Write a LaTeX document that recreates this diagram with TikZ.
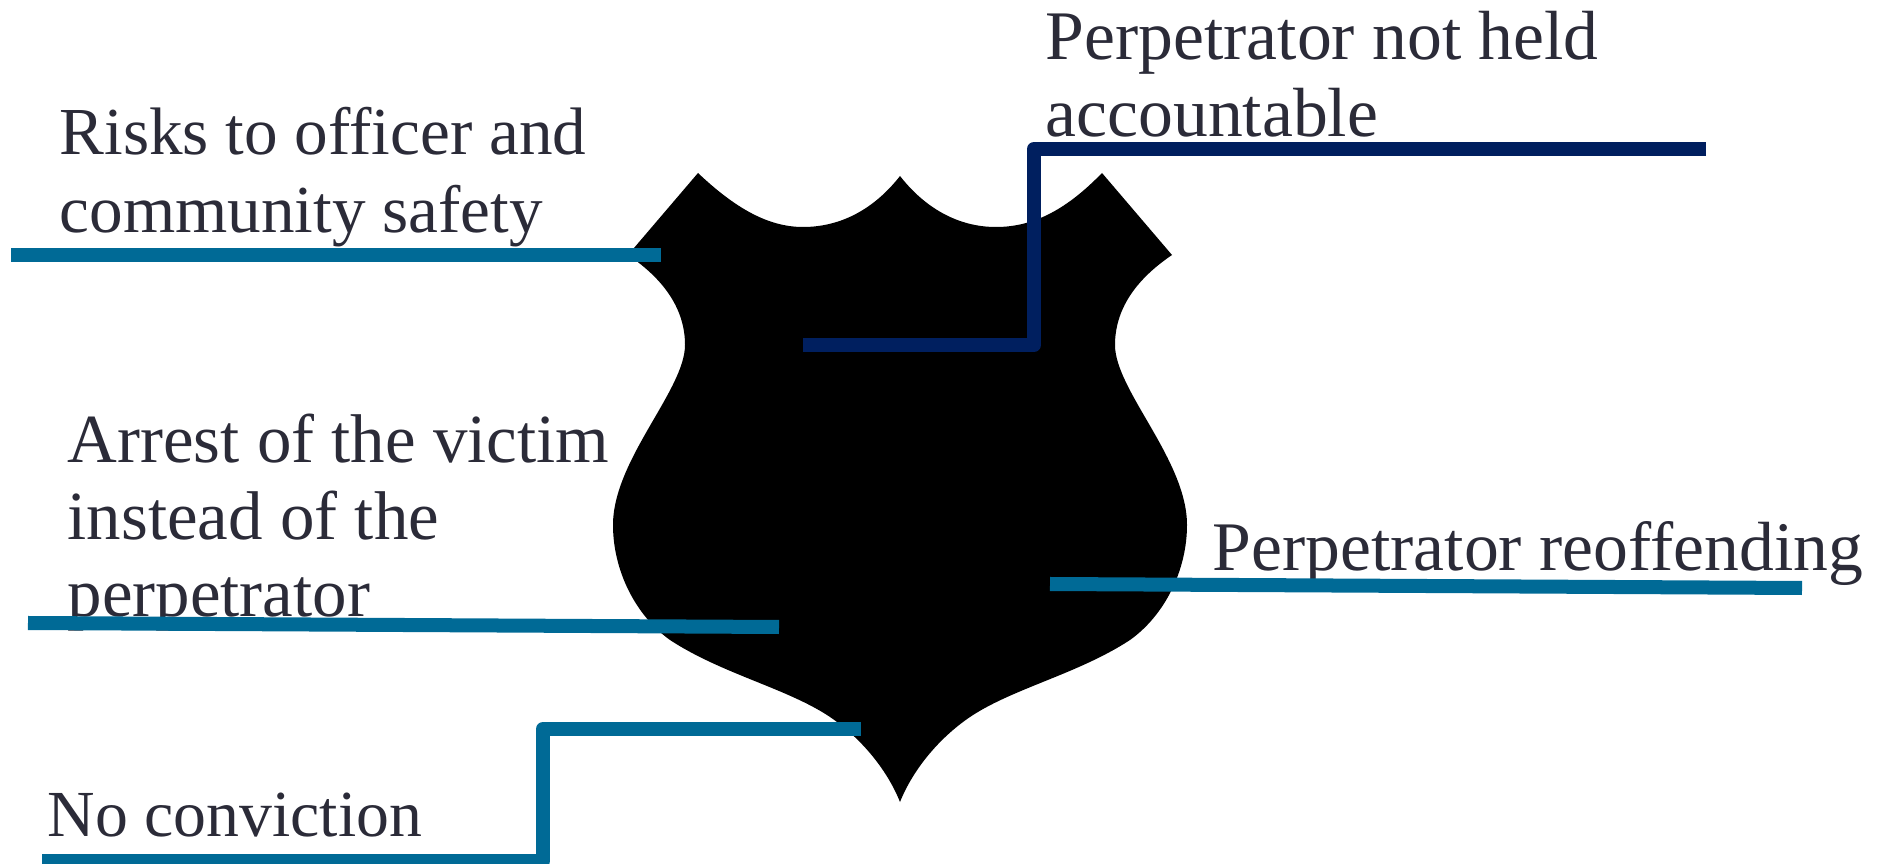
\documentclass[tikz,border=0pt]{standalone}
\usepackage{fontspec}
\usepackage{xcolor}
\setmainfont{Liberation Serif}
\definecolor{labeltext}{HTML}{2B2B38}
\definecolor{leaderteal}{HTML}{006A96}
\definecolor{leadernavy}{HTML}{001F5F}
\tikzset{
    label/.style={anchor=north west, inner sep=0pt, align=left, text=labeltext, font=\fontsize{#1}{21.9}\selectfont},
    label/.default=19.6,
    leader/.style={line width=0.14cm, line join=round, color=leaderteal}
}

\begin{document}
\begin{tikzpicture}[x=0.01cm, y=-0.01cm]
    \useasboundingbox (0,0) rectangle (1887,864);
    \fill[black] (698,173)
        .. controls (735,208) and (768,227) .. (803,227)
        .. controls (842,227) and (875,208) .. (900,176)
        .. controls (925,208) and (958,227) .. (996,227)
        .. controls (1035,227) and (1068,208) .. (1102,173)
        -- (1172,255)
        .. controls (1135,280) and (1115,310) .. (1115,345)
        .. controls (1115,390) and (1187,460) .. (1187,525)
        .. controls (1187,570) and (1165,615) .. (1130,640)
        .. controls (1075,676) and (1005,690) .. (963,722)
        .. controls (935,743) and (912,772) .. (900,802)
        .. controls (888,772) and (865,743) .. (837,722)
        .. controls (795,690) and (725,676) .. (670,640)
        .. controls (635,615) and (613,570) .. (613,525)
        .. controls (613,460) and (685,390) .. (685,345)
        .. controls (685,310) and (665,280) .. (628,255)
        -- cycle;
    \node[label=19.1] (risks) at (59,107) {Risks to officer and\\community safety};
    \node[label=19.8] (accountable) at (1045,10) {Perpetrator not held\\accountable};
    \node[label] (arrest) at (67,413) {Arrest of the victim\\instead of the\\perpetrator};
    \node[label=19.8] (reoffending) at (1212,521) {Perpetrator reoffending};
    \node[label=18.7] (conviction) at (47,792) {No conviction};
    \coordinate (risksA) at (11,255);
    \coordinate (risksB) at (661,255);
    \coordinate (accountableA) at (1706,149);
    \coordinate (accountableB) at (1034,149);
    \coordinate (accountableC) at (1034,345);
    \coordinate (accountableD) at (803,345);
    \coordinate (arrestA) at (28,623);
    \coordinate (arrestB) at (779,627);
    \coordinate (reoffendingA) at (1050,584);
    \coordinate (reoffendingB) at (1802,588);
    \coordinate (convictionA) at (42,861);
    \coordinate (convictionB) at (543,861);
    \coordinate (convictionC) at (543,729);
    \coordinate (convictionD) at (861,729);
    \draw[leader] (risksA) -- (risksB);
    \draw[leader, color=leadernavy] (accountableA) -- (accountableB) -- (accountableC) -- (accountableD);
    \draw[leader] (arrestA) -- (arrestB);
    \draw[leader] (reoffendingA) -- (reoffendingB);
    \draw[leader] (convictionA) -- (convictionB) -- (convictionC) -- (convictionD);
\end{tikzpicture}
\end{document}
